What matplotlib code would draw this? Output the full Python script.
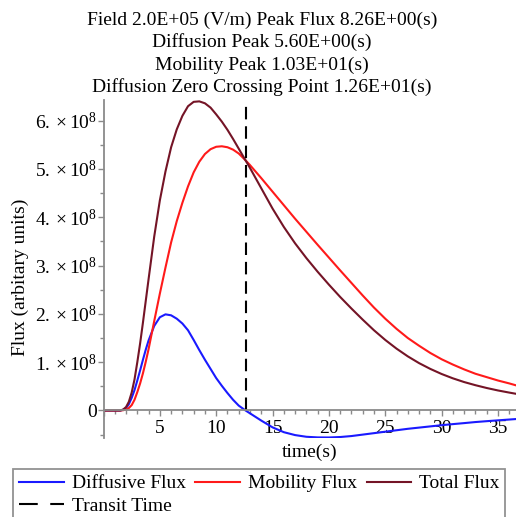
import numpy as np
import matplotlib
matplotlib.use("Agg")
import matplotlib.pyplot as plt
from matplotlib.lines import Line2D
from matplotlib.ticker import MultipleLocator, FuncFormatter

# ---------------- data (flux in units of 1e8) ----------------
time_s = [0, 1.0, 1.5, 1.75, 2.0, 2.25, 2.5, 2.75, 3.0, 3.25,
          3.5, 3.75, 4.0, 4.5, 5.0, 5.5, 6.0, 6.5, 7.0, 7.5, 8.0, 8.5, 9.0,
          9.5, 10.0, 10.5, 11.0, 11.5, 12.0, 12.6,
          13, 14, 15, 16, 17, 18, 19, 20, 21, 22, 23, 24, 25,
          26, 27, 28, 29, 30, 31, 32, 33, 34, 35, 36, 36.6]

diffusive = [0, 0, 0, 0.015, 0.05, 0.13, 0.26, 0.42, 0.62, 0.83,
             1.05, 1.26, 1.45, 1.75, 1.93, 1.99, 1.97, 1.90, 1.80, 1.66, 1.46, 1.25, 1.05,
             0.86, 0.67, 0.51, 0.36, 0.22, 0.10, 0.0,
             -0.06, -0.21, -0.35, -0.45, -0.51, -0.545, -0.558, -0.56, -0.55, -0.53, -0.50, -0.47, -0.44,
             -0.41, -0.38, -0.355, -0.33, -0.305, -0.283, -0.262, -0.24, -0.222, -0.205, -0.188, -0.178]

mobility = [0, 0, 0, 0.005, 0.02, 0.05, 0.11, 0.22, 0.38, 0.56,
            0.77, 1.01, 1.27, 1.85, 2.42, 2.96, 3.48, 3.92, 4.30, 4.64, 4.93, 5.15, 5.31,
            5.41, 5.46, 5.47, 5.45, 5.40, 5.32, 5.18,
            5.08, 4.81, 4.53, 4.25, 3.97, 3.70, 3.43, 3.165, 2.90, 2.64, 2.38, 2.13, 1.90,
            1.69, 1.50, 1.34, 1.19, 1.06, 0.95, 0.85, 0.76, 0.69, 0.62, 0.56, 0.52]

total = [0, 0, 0, 0.02, 0.07, 0.18, 0.37, 0.64, 1.0, 1.39,
         1.82, 2.27, 2.72, 3.60, 4.35, 4.95, 5.45, 5.82, 6.10, 6.30, 6.39, 6.40, 6.36,
         6.27, 6.13, 5.98, 5.81, 5.62, 5.42, 5.18,
         5.02, 4.60, 4.18, 3.80, 3.46, 3.155, 2.872, 2.605, 2.35, 2.11, 1.88, 1.66, 1.46,
         1.28, 1.12, 0.98, 0.86, 0.755, 0.665, 0.588, 0.523, 0.465, 0.414, 0.37, 0.345]

transit_time = 12.6

title_lines = ["Field 2.0E+05 (V/m) Peak Flux 8.26E+00(s)",
               "Diffusion Peak 5.60E+00(s)",
               "Mobility Peak 1.03E+01(s)",
               "Diffusion Zero Crossing Point 1.26E+01(s)"]

scale = 1e8
y_lo, y_hi = -0.56 * scale, 6.42 * scale

# ---------------- style ----------------
plt.rcParams["font.family"] = ["Liberation Serif", "DejaVu Serif"]
plt.rcParams["mathtext.fontset"] = "custom"
plt.rcParams["mathtext.rm"] = "Liberation Serif"
plt.rcParams["mathtext.it"] = "Liberation Serif:italic"
plt.rcParams["font.size"] = 14

axis_grey = "#8a8a8a"
fs = 14
c_diff, c_mob, c_tot = "#1a1aff", "#ff1a1a", "#741426"

fig = plt.figure(figsize=(5.16, 5.17), dpi=100)
ax = fig.add_axes([103.5 / 516, 79.5 / 517, 1 - 103.5 / 516, (437.5 - 100.4) / 517])

t = np.array(time_s)
ax.plot(t, np.array(diffusive) * scale, color=c_diff, lw=1.5)
ax.plot(t, np.array(mobility) * scale, color=c_mob, lw=1.5)
ax.plot(t, np.array(total) * scale, color=c_tot, lw=1.5)
ax.plot([transit_time, transit_time], [0, y_hi], color="black", lw=1.5, dashes=(6, 3.3))

ax.set_xlim(0, 36.6)
ax.set_ylim(y_lo, y_hi)

# Maple-like axes: crossing at the origin
ax.spines["bottom"].set_position(("data", 0))
ax.spines["left"].set_position(("data", 0))
ax.spines["right"].set_visible(False)
ax.spines["top"].set_visible(False)
for s in ["bottom", "left"]:
    ax.spines[s].set_color(axis_grey)
    ax.spines[s].set_linewidth(1.3)

ax.xaxis.set_major_locator(MultipleLocator(5))
ax.xaxis.set_minor_locator(MultipleLocator(1))
ax.yaxis.set_major_locator(MultipleLocator(1e8))
ax.yaxis.set_minor_locator(MultipleLocator(0.5e8))

def y_fmt(v, pos):
    n = int(round(v / scale))
    if n == 0:
        return "0"
    return r"$%d.\times 10^{8}$" % n

def x_fmt(v, pos):
    if abs(v) < 1e-9:
        return ""
    return "%d" % v

ax.yaxis.set_major_formatter(FuncFormatter(y_fmt))
ax.xaxis.set_major_formatter(FuncFormatter(x_fmt))
ax.tick_params(axis="both", which="both", direction="out", color=axis_grey, width=1)
ax.tick_params(axis="both", which="major", length=4, labelsize=fs)
ax.tick_params(axis="both", which="minor", length=3)
ax.tick_params(axis="x", which="major", pad=3)
ax.tick_params(axis="y", which="major", pad=1)

ax.set_xlabel("time(s)", fontsize=fs)
ax.xaxis.label.set_va("center")
ax.xaxis.set_label_coords(0.5, -0.043)
ax.set_ylabel("Flux (arbitary units)", fontsize=fs)
ax.yaxis.label.set_va("center")
ax.yaxis.set_label_coords(-0.2024, 0.476)

# title lines
baselines = [25, 47, 70, 92]
for line, b in zip(title_lines, baselines):
    fig.text(262 / 516, 1 - b / 517, line, ha="center", va="baseline", fontsize=fs)

# legend filled column by column: this order gives rows D/M/T then Transit
handles = [Line2D([], [], color=c_diff, lw=1.5),
           Line2D([], [], color="black", lw=1.5, dashes=(9, 6)),
           Line2D([], [], color=c_mob, lw=1.5),
           Line2D([], [], color=c_tot, lw=1.5)]
leg = fig.legend(handles,
                 ["Diffusive Flux", "Transit Time", "Mobility Flux", "Total Flux"],
                 loc="upper left", bbox_to_anchor=(13.3 / 516, 1 - 469 / 517),
                 ncol=3, fontsize=fs, frameon=True, fancybox=False,
                 borderaxespad=0, borderpad=0.3, handlelength=2.3,
                 handletextpad=0.4, columnspacing=0.5, labelspacing=0.25)
leg.get_frame().set_edgecolor("#777777")
leg.get_frame().set_linewidth(1.3)

fig.set_facecolor("white")
plt.savefig("out.png", dpi=100)
